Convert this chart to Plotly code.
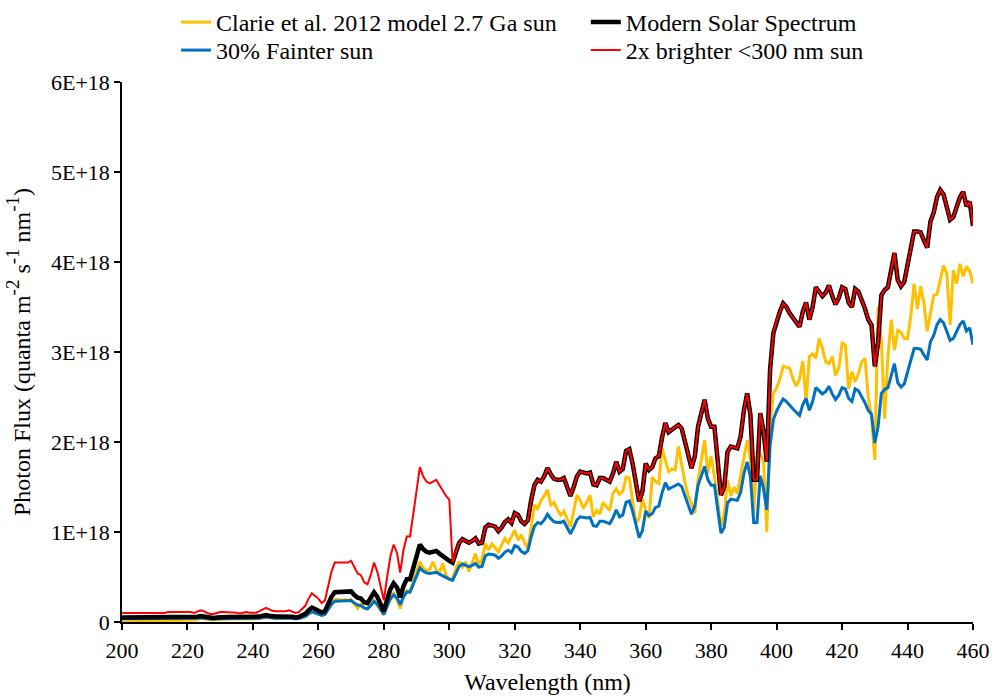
import plotly.graph_objects as go

# Wavelength grid (nm), 1 nm steps from 200 to 460
wavelength = list(range(200, 461))

# Photon flux in units of 1E+18 quanta m^-2 s^-1 nm^-1
modern = [
    0.05, 0.05, 0.05, 0.05, 0.05, 0.05, 0.05, 0.05, 0.05, 0.05,
    0.05, 0.05, 0.05, 0.05, 0.055, 0.055, 0.055, 0.055, 0.055, 0.055,
    0.055, 0.055, 0.05, 0.058, 0.065, 0.06, 0.05, 0.045, 0.045, 0.05,
    0.055, 0.055, 0.055, 0.055, 0.055, 0.052, 0.048, 0.052, 0.055, 0.052,
    0.05, 0.052, 0.06, 0.07, 0.078, 0.07, 0.062, 0.06, 0.06, 0.06,
    0.06, 0.065, 0.058, 0.05, 0.055, 0.075, 0.09, 0.13, 0.16, 0.145,
    0.13, 0.105, 0.12, 0.20, 0.28, 0.33, 0.33, 0.33, 0.33, 0.33,
    0.34, 0.30, 0.27, 0.26, 0.22, 0.21, 0.26, 0.33, 0.28, 0.20,
    0.12, 0.25, 0.365, 0.43, 0.385, 0.275, 0.40, 0.475, 0.475, 0.60,
    0.74, 0.86, 0.81, 0.78, 0.77, 0.78, 0.79, 0.76, 0.73, 0.70,
    0.68, 0.66, 0.78, 0.88, 0.92, 0.90, 0.88, 0.90, 0.93, 0.87,
    0.88, 1.05, 1.08, 1.07, 1.06, 1.01, 1.05, 1.11, 1.14, 1.10,
    1.21, 1.19, 1.12, 1.09, 1.13, 1.35, 1.52, 1.58, 1.56, 1.62,
    1.71, 1.64, 1.59, 1.58, 1.58, 1.60, 1.50, 1.40, 1.50, 1.62,
    1.67, 1.66, 1.65, 1.66, 1.53, 1.52, 1.60, 1.60, 1.58, 1.56,
    1.65, 1.78, 1.67, 1.70, 1.90, 1.92, 1.76, 1.55, 1.34, 1.45,
    1.76, 1.69, 1.72, 1.82, 1.84, 2.05, 2.21, 2.11, 2.14, 2.17,
    2.19, 2.15, 2.00, 1.85, 1.71, 1.84, 2.17, 2.32, 2.47, 2.26,
    2.17, 2.17, 1.80, 1.41, 1.50, 1.89, 1.95, 1.94, 1.93, 2.06,
    2.35, 2.54, 2.30, 1.58, 1.58, 2.32, 2.12, 1.78, 2.80, 3.21,
    3.35, 3.45, 3.54, 3.50, 3.43, 3.38, 3.33, 3.28, 3.45, 3.55,
    3.36, 3.50, 3.72, 3.67, 3.62, 3.66, 3.74, 3.62, 3.53, 3.60,
    3.72, 3.70, 3.55, 3.50, 3.70, 3.67, 3.58, 3.48, 3.36, 3.30,
    2.84, 3.10, 3.63, 3.69, 3.72, 3.90, 4.10, 3.80, 3.73, 3.78,
    3.96, 4.15, 4.34, 4.34, 4.33, 4.24, 4.16, 4.45, 4.55, 4.72,
    4.80, 4.75, 4.60, 4.47, 4.50, 4.62, 4.72, 4.78, 4.62, 4.67,
    4.40,
]

fainter = [
    0.035, 0.035, 0.035, 0.035, 0.035, 0.035, 0.035, 0.035, 0.035, 0.035,
    0.035, 0.035, 0.035, 0.035, 0.039, 0.039, 0.039, 0.039, 0.039, 0.039,
    0.039, 0.039, 0.035, 0.041, 0.046, 0.042, 0.035, 0.032, 0.032, 0.035,
    0.039, 0.039, 0.039, 0.039, 0.039, 0.036, 0.034, 0.036, 0.039, 0.036,
    0.035, 0.036, 0.042, 0.049, 0.055, 0.049, 0.043, 0.042, 0.042, 0.042,
    0.042, 0.046, 0.041, 0.035, 0.039, 0.053, 0.063, 0.091, 0.112, 0.102,
    0.091, 0.074, 0.084, 0.14, 0.196, 0.231, 0.231, 0.231, 0.231, 0.231,
    0.238, 0.21, 0.189, 0.182, 0.154, 0.147, 0.182, 0.231, 0.196, 0.14,
    0.084, 0.175, 0.256, 0.301, 0.27, 0.193, 0.28, 0.333, 0.333, 0.42,
    0.518, 0.602, 0.567, 0.546, 0.539, 0.546, 0.553, 0.532, 0.511, 0.49,
    0.476, 0.462, 0.546, 0.616, 0.644, 0.63, 0.616, 0.63, 0.651, 0.609,
    0.616, 0.735, 0.756, 0.749, 0.742, 0.707, 0.735, 0.777, 0.798, 0.77,
    0.847, 0.833, 0.784, 0.763, 0.791, 0.945, 1.064, 1.106, 1.092, 1.134,
    1.197, 1.148, 1.113, 1.106, 1.106, 1.12, 1.05, 0.98, 1.05, 1.134,
    1.169, 1.162, 1.155, 1.162, 1.071, 1.064, 1.12, 1.12, 1.106, 1.092,
    1.155, 1.246, 1.169, 1.19, 1.33, 1.344, 1.232, 1.085, 0.938, 1.015,
    1.232, 1.183, 1.204, 1.274, 1.288, 1.435, 1.547, 1.477, 1.498, 1.519,
    1.533, 1.505, 1.40, 1.295, 1.197, 1.288, 1.519, 1.624, 1.729, 1.582,
    1.519, 1.519, 1.26, 0.987, 1.05, 1.323, 1.365, 1.358, 1.351, 1.442,
    1.645, 1.778, 1.61, 1.106, 1.106, 1.624, 1.484, 1.246, 1.96, 2.247,
    2.345, 2.415, 2.478, 2.45, 2.401, 2.366, 2.331, 2.296, 2.415, 2.485,
    2.352, 2.45, 2.604, 2.569, 2.534, 2.562, 2.618, 2.534, 2.471, 2.52,
    2.604, 2.59, 2.485, 2.45, 2.59, 2.569, 2.506, 2.436, 2.352, 2.31,
    1.988, 2.17, 2.541, 2.583, 2.604, 2.73, 2.87, 2.66, 2.611, 2.646,
    2.772, 2.905, 3.038, 3.038, 3.031, 2.968, 2.912, 3.115, 3.185, 3.304,
    3.36, 3.325, 3.22, 3.129, 3.15, 3.234, 3.304, 3.346, 3.234, 3.269,
    3.08,
]

brighter_uv = [
    0.10, 0.10, 0.10, 0.10, 0.10, 0.10, 0.10, 0.10, 0.10, 0.10,
    0.10, 0.10, 0.10, 0.10, 0.11, 0.11, 0.11, 0.11, 0.11, 0.11,
    0.11, 0.11, 0.10, 0.116, 0.13, 0.12, 0.10, 0.09, 0.09, 0.10,
    0.11, 0.11, 0.11, 0.11, 0.11, 0.104, 0.096, 0.104, 0.11, 0.104,
    0.10, 0.104, 0.12, 0.14, 0.156, 0.14, 0.124, 0.12, 0.12, 0.12,
    0.12, 0.13, 0.116, 0.10, 0.11, 0.15, 0.18, 0.26, 0.32, 0.29,
    0.26, 0.21, 0.24, 0.40, 0.56, 0.66, 0.66, 0.66, 0.66, 0.66,
    0.68, 0.60, 0.54, 0.52, 0.44, 0.42, 0.52, 0.66, 0.56, 0.40,
    0.24, 0.50, 0.73, 0.86, 0.77, 0.55, 0.80, 0.95, 0.95, 1.20,
    1.48, 1.72, 1.62, 1.56, 1.54, 1.56, 1.58, 1.52, 1.46, 1.40,
    1.36, 0.66, 0.78, 0.88, 0.92, 0.90, 0.88, 0.90, 0.93, 0.87,
    0.88, 1.05, 1.08, 1.07, 1.06, 1.01, 1.05, 1.11, 1.14, 1.10,
    1.21, 1.19, 1.12, 1.09, 1.13, 1.35, 1.52, 1.58, 1.56, 1.62,
    1.71, 1.64, 1.59, 1.58, 1.58, 1.60, 1.50, 1.40, 1.50, 1.62,
    1.67, 1.66, 1.65, 1.66, 1.53, 1.52, 1.60, 1.60, 1.58, 1.56,
    1.65, 1.78, 1.67, 1.70, 1.90, 1.92, 1.76, 1.55, 1.34, 1.45,
    1.76, 1.69, 1.72, 1.82, 1.84, 2.05, 2.21, 2.11, 2.14, 2.17,
    2.19, 2.15, 2.00, 1.85, 1.71, 1.84, 2.17, 2.32, 2.47, 2.26,
    2.17, 2.17, 1.80, 1.41, 1.50, 1.89, 1.95, 1.94, 1.93, 2.06,
    2.35, 2.54, 2.30, 1.58, 1.58, 2.32, 2.12, 1.78, 2.80, 3.21,
    3.35, 3.45, 3.54, 3.50, 3.43, 3.38, 3.33, 3.28, 3.45, 3.55,
    3.36, 3.50, 3.72, 3.67, 3.62, 3.66, 3.74, 3.62, 3.53, 3.60,
    3.72, 3.70, 3.55, 3.50, 3.70, 3.67, 3.58, 3.48, 3.36, 3.30,
    2.84, 3.10, 3.63, 3.69, 3.72, 3.90, 4.10, 3.80, 3.73, 3.78,
    3.96, 4.15, 4.34, 4.34, 4.33, 4.24, 4.16, 4.45, 4.55, 4.72,
    4.80, 4.75, 4.60, 4.47, 4.50, 4.62, 4.72, 4.78, 4.62, 4.67,
    4.40,
]

claire_2012 = [
    0.0, 0.0, 0.0, 0.002, 0.004, 0.005, 0.006, 0.007, 0.008, 0.01,
    0.01, 0.012, 0.013, 0.014, 0.015, 0.016, 0.017, 0.018, 0.02, 0.02,
    0.022, 0.022, 0.022, 0.03, 0.04, 0.035, 0.028, 0.025, 0.025, 0.028,
    0.03, 0.032, 0.032, 0.032, 0.033, 0.032, 0.03, 0.032, 0.034, 0.033,
    0.033, 0.035, 0.04, 0.045, 0.05, 0.046, 0.04, 0.04, 0.04, 0.04,
    0.04, 0.045, 0.04, 0.035, 0.04, 0.05, 0.06, 0.09, 0.11, 0.10,
    0.09, 0.075, 0.09, 0.15, 0.21, 0.25, 0.25, 0.24, 0.25, 0.24,
    0.25, 0.20, 0.15, 0.20, 0.16, 0.15, 0.18, 0.24, 0.19, 0.13,
    0.08, 0.18, 0.27, 0.32, 0.25, 0.15, 0.28, 0.35, 0.33, 0.45,
    0.55, 0.67, 0.60, 0.57, 0.58, 0.67, 0.58, 0.55, 0.65, 0.52,
    0.47, 0.48, 0.59, 0.67, 0.61, 0.67, 0.56, 0.67, 0.76, 0.63,
    0.70, 0.87, 0.80, 0.87, 0.82, 0.78, 0.86, 0.93, 0.88, 0.95,
    1.02, 0.91, 0.97, 0.88, 0.82, 1.05, 1.30, 1.26, 1.35, 1.40,
    1.47, 1.30, 1.33, 1.25, 1.19, 1.23, 1.15, 1.06, 1.23, 1.41,
    1.35, 1.26, 1.33, 1.41, 1.17, 1.24, 1.20, 1.33, 1.28, 1.24,
    1.43, 1.48, 1.42, 1.45, 1.61, 1.60, 1.35, 1.10, 1.15, 1.37,
    1.24, 1.15, 1.61, 1.56, 1.54, 1.93, 1.80, 1.67, 1.70, 1.69,
    1.95, 1.73, 1.55, 1.40, 1.32, 1.21, 1.58, 1.80, 2.02, 1.65,
    1.84, 1.62, 1.35, 1.06, 1.20, 1.58, 1.40, 1.50, 1.43, 1.62,
    1.80, 2.02, 1.80, 1.21, 1.87, 1.87, 1.80, 1.00, 2.17, 2.54,
    2.60, 2.70, 2.84, 2.83, 2.82, 2.70, 2.62, 2.70, 2.90, 2.45,
    2.95, 2.98, 2.93, 3.15, 3.04, 2.89, 2.87, 2.95, 2.74, 2.82,
    3.10, 3.08, 2.59, 2.78, 2.67, 2.76, 2.89, 2.93, 2.50, 2.28,
    1.80, 3.50, 3.13, 2.26, 2.95, 3.36, 3.02, 3.24, 3.22, 3.15,
    3.15, 3.40, 3.76, 3.48, 3.73, 3.55, 3.23, 3.43, 3.63, 3.64,
    3.80, 3.96, 3.87, 3.30, 3.91, 3.76, 3.98, 3.84, 3.95, 3.90,
    3.76,
]

y_tick_values = [0, 1, 2, 3, 4, 5, 6]
y_tick_labels = ["0", "1E+18", "2E+18", "3E+18", "4E+18", "5E+18", "6E+18"]
x_tick_values = list(range(200, 461, 20))

FONT = "Liberation Serif, Times New Roman, serif"
SCALE = 1e18

series = [
    # name, values, colour, width, legend box
    ("Clarie et al. 2012 model 2.7 Ga sun", claire_2012, "#FFC000", 3, "legend"),
    ("30% Fainter sun", fainter, "#0070C0", 3, "legend2"),
    ("Modern Solar Spectrum", modern, "#000000", 4.5, "legend3"),
    ("2x brighter <300 nm sun", brighter_uv, "#FF0000", 2, "legend4"),
]

fig = go.Figure()
for name, vals, colour, width, box in series:
    fig.add_trace(go.Scatter(
        x=wavelength,
        y=[v * SCALE for v in vals],
        mode="lines",
        name=name,
        line=dict(color=colour, width=width),
        legend=box,
    ))


def legend_box(x, y):
    # one legend entry per box, laid out as a 2 x 2 grid above the plot
    return dict(
        orientation="v",
        xref="paper",
        yref="container",
        x=x,
        y=y,
        xanchor="left",
        yanchor="top",
        font=dict(family=FONT, size=24, color="black"),
        itemwidth=30,
        bgcolor="rgba(0,0,0,0)",
    )


LEFT_COL, RIGHT_COL = 0.0635, 0.545
TOP_ROW, BOTTOM_ROW = 1.0, 0.9598


def sup(txt):
    return '<sup><span style="font-size:19px">' + txt + "</span></sup>"


y_title = "Photon Flux (quanta m" + sup("-2") + " s" + sup("-1") + " nm" + sup("-1") + ")"

fig.update_layout(
    width=993,
    height=696,
    margin=dict(l=122, r=20, t=82, b=74, autoexpand=False),
    paper_bgcolor="white",
    plot_bgcolor="white",
    font=dict(family=FONT, size=22, color="black"),
    showlegend=True,
    legend=legend_box(LEFT_COL, TOP_ROW),
    legend2=legend_box(LEFT_COL, BOTTOM_ROW),
    legend3=legend_box(RIGHT_COL, TOP_ROW),
    legend4=legend_box(RIGHT_COL, BOTTOM_ROW),
    xaxis=dict(
        range=[200, 460],
        tickmode="array",
        tickvals=x_tick_values,
        ticks="outside",
        ticklen=6,
        tickwidth=1.5,
        tickcolor="black",
        ticklabelstandoff=2,
        showline=True,
        linecolor="black",
        linewidth=1.5,
        showgrid=False,
        zeroline=False,
        title=dict(text="Wavelength (nm)", standoff=11, font=dict(size=24)),
        tickfont=dict(size=22),
    ),
    yaxis=dict(
        range=[0, 6 * SCALE],
        tickmode="array",
        tickvals=[v * SCALE for v in y_tick_values],
        ticktext=y_tick_labels,
        ticks="outside",
        ticklen=6,
        tickwidth=1.5,
        tickcolor="black",
        showline=True,
        linecolor="black",
        linewidth=1.5,
        showgrid=False,
        zeroline=False,
        title=dict(text=y_title, standoff=14, font=dict(size=24)),
        tickfont=dict(size=22),
    ),
)

fig.write_html("out.html")
